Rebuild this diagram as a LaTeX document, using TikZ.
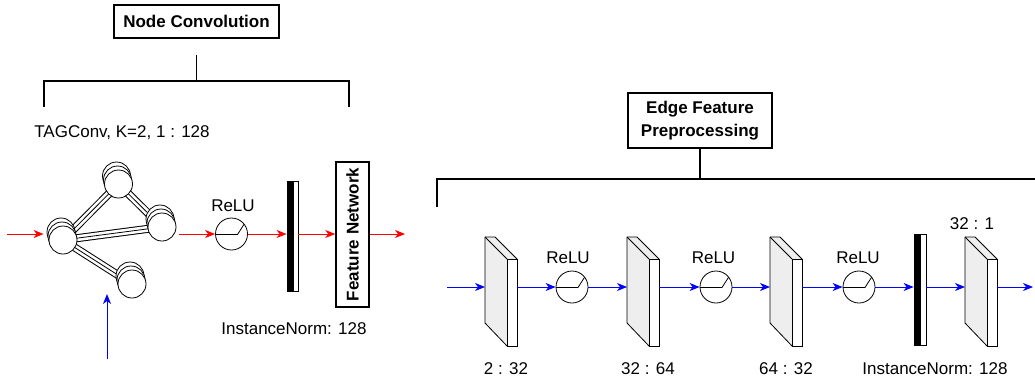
\documentclass[tikz,border=0pt]{standalone}
\usepackage{fontspec}
\setmainfont{Liberation Sans}
\usetikzlibrary{arrows.meta,shadows,backgrounds,positioning}

\begin{document}
\begin{tikzpicture}[x=1pt,y=-1pt,
  every node/.style={font=\fontsize{17}{21}\selectfont},
  titlebox/.style={draw,line width=1.5pt,inner sep=4pt,align=center,
    font=\fontsize{17}{23}\selectfont\bfseries},
  bracket/.style={line width=1.8pt},
  graphnode/.style={circle,draw,fill=white,line width=0.8pt,minimum size=28pt,inner sep=0pt,
    double copy shadow={shadow xshift=-1pt,shadow yshift=4pt,draw=black,fill=white,line width=0.8pt}},
  link/.style={line width=0.8pt,preaction={draw,line width=8pt},preaction={draw,white,line width=6pt}},
  relu/.style={circle,draw,line width=0.8pt,minimum size=32pt,inner sep=0pt,
    path picture={\draw[line width=0.8pt] ([yshift=-0.5pt]path picture bounding box.west) -- ++(22pt,0) -- ++(8pt,12.5pt);}},
  normbar/.style={draw,line width=0.8pt,minimum width=11pt,minimum height=110pt,inner sep=0pt,
    path picture={\fill (path picture bounding box.north west) rectangle ([xshift=6.5pt]path picture bounding box.south west);}},
  layerbox/.style={minimum width=32pt,minimum height=109pt,inner sep=0pt,outer sep=0pt},
  layerside/.style={fill=gray!13,draw,line width=0.8pt,line join=round},
  redarrow/.style={red,line width=1pt,-{Stealth[length=10pt,width=8pt,inset=3pt]}},
  bluearrow/.style={blue,line width=1pt,-{Stealth[length=10pt,width=8pt,inset=3pt]}}]
\useasboundingbox (0,0) rectangle (1035,386);

% node convolution
\node[titlebox,minimum width=165pt,minimum height=33pt] (nc) at (196.5,21.5) {Node Convolution};
\draw[bracket] ([yshift=-16pt]nc.south) -- ++(0,27);
\draw[bracket] (44,107) -- (44,81) -- (349,81) -- (349,107);
\node (tag) at (122,133) {TAGConv, K=2, 1 : 128};

\node[graphnode] (A) at (63,240) {};
\node[graphnode] (B) at (118.5,184) {};
\node[graphnode] (C) at (162,227) {};
\node[graphnode] (D) at (132,284) {};
\begin{scope}[on background layer]
\draw[link] (A.center) -- (B.center);
\draw[link] (A.center) -- (C.center);
\draw[link] (B.center) -- (C.center);
\draw[link] (A.center) -- (D.center);
\end{scope}

\node[relu] (relu0) at (231.5,234) {};
\node (t0) at (233,206) {ReLU};
\node[normbar] (bar0) at (292.5,236) {};
\node (in0) at (294,329) {InstanceNorm: 128};
\node[titlebox,rotate=90,minimum width=145pt,minimum height=33pt,inner sep=0pt] (fn) at (352.5,234.5) {Feature Network};

\coordinate (a0) at (7,234);
\coordinate (out0) at (405,234);
\draw[redarrow] (a0) -- ([xshift=-5pt]A.west |- a0);
\draw[redarrow] ([xshift=3pt]C.east |- relu0) -- (relu0);
\draw[redarrow] (relu0) -- (bar0.west |- relu0);
\draw[redarrow] (bar0.east |- relu0) -- (fn.north |- relu0);
\draw[redarrow] (fn.south |- relu0) -- (out0);

\coordinate (e0) at (107,359);
\coordinate (e1) at (107,294);
\draw[bluearrow] (e0) -- (e1);

% edge feature preprocessing
\node[titlebox,minimum width=144pt,minimum height=55pt] (epp) at (700,120.5) {Edge Feature\\Preprocessing};
\draw[bracket] (epp.south) -- ++(0,31);
\draw[bracket] (437,207) -- (437,179) -- (1045,179) -- (1045,207);

\foreach \n/\x in {L1/507,L2/649,L3/792,L4/987}{
  \node[layerbox] (\n) at (\x-6,291.5) {};
  \filldraw[layerside] (\n.north west) -- ++(10,0) -- ++(22,22) -- ++(0,87) -- ++(-10,0) -- ++(-22,-23) -- cycle;
  \draw[fill=white,line width=0.8pt] ([shift={(22,22)}]\n.north west) rectangle ++(10,87);
  \draw[line width=0.8pt] (\n.north west) -- ++(22,22);
}
\node[relu] (r1) at (572,287) {};
\node[relu] (r2) at (716,287) {};
\node[relu] (r3) at (859,287) {};
\node (t1) at (568,258) {ReLU};
\node (t2) at (713.5,258) {ReLU};
\node (t3) at (858,258) {ReLU};
\node[normbar,minimum width=12pt,minimum height=111pt] (bar1) at (920,289.5) {};

\node (s1) at (506,369) {2 : 32};
\node (s2) at (648,369) {32 : 64};
\node (s3) at (786,369) {64 : 32};
\node (in1) at (935,369) {InstanceNorm: 128};
\node (s4) at (972,224) {32 : 1};

\coordinate (b0) at (447,287);
\coordinate (b1) at (1033,287);
\draw[bluearrow] (b0) -- (L1.west |- b0);
\draw[bluearrow] (L1.east |- r1) -- (r1);
\draw[bluearrow] (r1) -- (L2.west |- r1);
\draw[bluearrow] (L2.east |- r2) -- (r2);
\draw[bluearrow] (r2) -- (L3.west |- r2);
\draw[bluearrow] (L3.east |- r3) -- (r3);
\draw[bluearrow] (r3) -- (bar1.west |- r3);
\draw[bluearrow] (bar1.east |- r3) -- (L4.west |- r3);
\draw[bluearrow] (L4.east |- r3) -- (b1);
\end{tikzpicture}
\end{document}
